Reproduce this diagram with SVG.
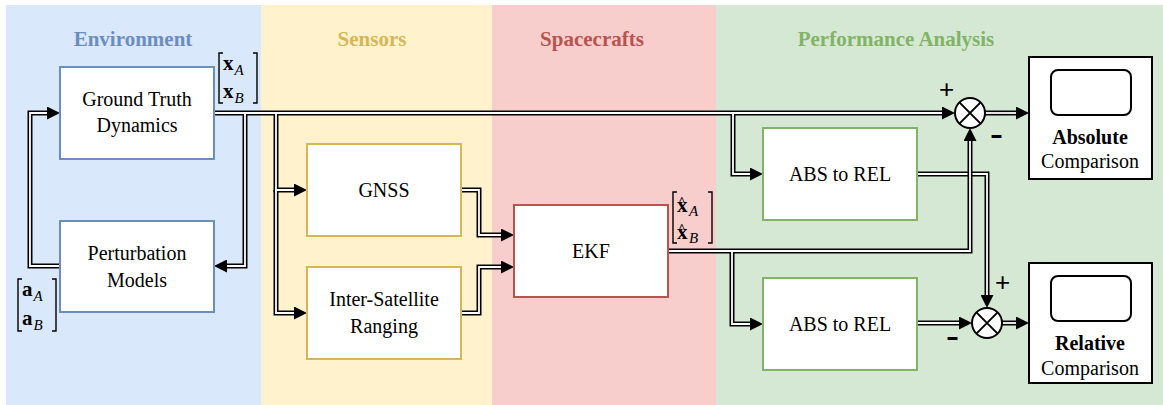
<svg xmlns="http://www.w3.org/2000/svg" width="1163" height="405" viewBox="0 0 1163 405">
<defs>
<marker id="ah" markerUnits="userSpaceOnUse" markerWidth="13" markerHeight="13" viewBox="0 0 13 13" refX="0" refY="6.5" orient="auto">
<path d="M0,0 L13,6.5 L0,13 z" fill="#000"/>
</marker>
</defs>
<g id="backgrounds">
<rect x="6" y="5" width="255" height="400" fill="#dae8fc"/>
<rect x="261" y="5" width="231" height="400" fill="#fff2cc"/>
<rect x="492" y="5" width="224" height="400" fill="#f8cecc"/>
<rect x="716" y="5" width="447" height="400" fill="#d5e8d4"/>
<text style="font-family:Liberation Serif,serif;font-size:21px;font-weight:bold;text-anchor:middle;fill:#6c8ebf" x="133" y="46">Environment</text>
<text style="font-family:Liberation Serif,serif;font-size:21px;font-weight:bold;text-anchor:middle;fill:#d6b656" x="372" y="46">Sensors</text>
<text style="font-family:Liberation Serif,serif;font-size:21px;font-weight:bold;text-anchor:middle;fill:#b85450" x="592" y="46">Spacecrafts</text>
<text style="font-family:Liberation Serif,serif;font-size:21px;font-weight:bold;text-anchor:middle;fill:#82b366" x="896" y="46">Performance Analysis</text>
</g>
<g id="connectors" fill="none">
<g stroke="#000" stroke-width="5" marker-end="url(#ah)">
<path d="M214,113 H942"/>
<path d="M245,113 V266 H227"/>
<path d="M276,113 V190 H294"/>
<path d="M276,190 V313 H294"/>
<path d="M733,113 V174 H750"/>
<path d="M60,266 H30 V113 H47"/>
<path d="M461,190 H479 V235 H501"/>
<path d="M461,313 H479 V267 H501"/>
</g>
<g stroke="#fff" stroke-width="1.8">
<path d="M214,113 H942"/>
<path d="M245,113 V266 H227"/>
<path d="M276,113 V190 H294"/>
<path d="M276,190 V313 H294"/>
<path d="M733,113 V174 H750"/>
<path d="M60,266 H30 V113 H47"/>
<path d="M461,190 H479 V235 H501"/>
<path d="M461,313 H479 V267 H501"/>
</g>
<path d="M917,174 H987 V295" stroke="#000" stroke-width="5" marker-end="url(#ah)"/>
<path d="M917,174 H987 V295" stroke="#fff" stroke-width="1.8"/>
<g stroke="#000" stroke-width="5" marker-end="url(#ah)">
<path d="M668,251 H970 V141"/>
<path d="M732,251 V324 H750"/>
<path d="M917,323 H959"/>
<path d="M985,113 H1016"/>
<path d="M1002,323 H1016"/>
</g>
<g stroke="#fff" stroke-width="1.8">
<path d="M668,251 H970 V141"/>
<path d="M732,251 V324 H750"/>
<path d="M917,323 H959"/>
<path d="M985,113 H1016"/>
<path d="M1002,323 H1016"/>
</g>
</g>
<g id="gtd">
<rect x="60" y="67" width="154" height="92" fill="#fff" stroke="#6c8ebf" stroke-width="2"/>
<text style="font-family:Liberation Serif,serif;font-size:20px;text-anchor:middle" x="137" y="106">Ground Truth</text>
<text style="font-family:Liberation Serif,serif;font-size:20px;text-anchor:middle" x="137" y="132">Dynamics</text>
</g>
<g id="pert">
<rect x="60" y="221" width="154" height="91" fill="#fff" stroke="#6c8ebf" stroke-width="2"/>
<text style="font-family:Liberation Serif,serif;font-size:20px;text-anchor:middle" x="137" y="260">Perturbation</text>
<text style="font-family:Liberation Serif,serif;font-size:20px;text-anchor:middle" x="137" y="287">Models</text>
</g>
<g id="gnss">
<rect x="307" y="144" width="154" height="92" fill="#fff" stroke="#d6b656" stroke-width="2"/>
<text style="font-family:Liberation Serif,serif;font-size:20px;text-anchor:middle" x="384" y="197">GNSS</text>
</g>
<g id="isr">
<rect x="307" y="267" width="154" height="92" fill="#fff" stroke="#d6b656" stroke-width="2"/>
<text style="font-family:Liberation Serif,serif;font-size:20px;text-anchor:middle" x="384" y="306">Inter-Satellite</text>
<text style="font-family:Liberation Serif,serif;font-size:20px;text-anchor:middle" x="384" y="333">Ranging</text>
</g>
<g id="ekf">
<rect x="514" y="205" width="154" height="92" fill="#fff" stroke="#b85450" stroke-width="2"/>
<text style="font-family:Liberation Serif,serif;font-size:20px;text-anchor:middle" x="591" y="258">EKF</text>
</g>
<g id="abs1">
<rect x="763" y="128" width="154" height="92" fill="#fff" stroke="#82b366" stroke-width="2"/>
<text style="font-family:Liberation Serif,serif;font-size:20px;text-anchor:middle" x="840" y="181">ABS to REL</text>
</g>
<g id="abs2">
<rect x="763" y="278" width="154" height="92" fill="#fff" stroke="#82b366" stroke-width="2"/>
<text style="font-family:Liberation Serif,serif;font-size:20px;text-anchor:middle" x="840" y="331">ABS to REL</text>
</g>
<g id="sum1">
<circle cx="970" cy="113" r="15" fill="#fff" stroke="#000" stroke-width="2"/>
<path d="M959.4,102.4 L980.6,123.6 M980.6,102.4 L959.4,123.6" stroke="#000" stroke-width="2"/>
<text style="font-family:Liberation Sans,sans-serif;font-size:26px" x="939" y="98">+</text>
<text style="font-family:Liberation Sans,sans-serif;font-size:26px;font-weight:bold" x="990" y="143" textLength="13" lengthAdjust="spacingAndGlyphs">-</text>
</g>
<g id="sum2">
<circle cx="987" cy="323" r="15" fill="#fff" stroke="#000" stroke-width="2"/>
<path d="M976.4,312.4 L997.6,333.6 M997.6,312.4 L976.4,333.6" stroke="#000" stroke-width="2"/>
<text style="font-family:Liberation Sans,sans-serif;font-size:26px" x="995" y="291">+</text>
<text style="font-family:Liberation Sans,sans-serif;font-size:26px;font-weight:bold" x="946" y="345" textLength="13" lengthAdjust="spacingAndGlyphs">-</text>
</g>
<g id="scope_abs">
<rect x="1029" y="57" width="123" height="122" fill="#fff" stroke="#000" stroke-width="2"/>
<rect x="1051" y="70" width="80" height="45" rx="7" fill="#fff" stroke="#000" stroke-width="2"/>
<text style="font-family:Liberation Serif,serif;font-size:20px;font-weight:bold;text-anchor:middle" x="1090" y="144">Absolute</text>
<text style="font-family:Liberation Serif,serif;font-size:20px;text-anchor:middle" x="1090" y="168">Comparison</text>
</g>
<g id="scope_rel">
<rect x="1029" y="263" width="123" height="120" fill="#fff" stroke="#000" stroke-width="2"/>
<rect x="1051" y="276" width="80" height="45" rx="7" fill="#fff" stroke="#000" stroke-width="2"/>
<text style="font-family:Liberation Serif,serif;font-size:20px;font-weight:bold;text-anchor:middle" x="1090" y="350">Relative</text>
<text style="font-family:Liberation Serif,serif;font-size:20px;text-anchor:middle" x="1090" y="375">Comparison</text>
</g>
<g id="label_x">
<path d="M223,53 H219 V103 H223 M253,53 H257 V103 H253" fill="none" stroke="#000" stroke-width="1.4"/>
<text style="font-family:Liberation Serif,serif;font-size:21px;font-weight:bold" x="223" y="70">x<tspan style="font-size:15px;font-style:italic;font-weight:normal" dx="1" dy="5">A</tspan></text>
<text style="font-family:Liberation Serif,serif;font-size:21px;font-weight:bold" x="223" y="98">x<tspan style="font-size:15px;font-style:italic;font-weight:normal" dx="1" dy="5">B</tspan></text>
</g>
<g id="label_a">
<path d="M22,279 H18 V331 H22 M52,279 H56 V331 H52" fill="none" stroke="#000" stroke-width="1.4"/>
<text style="font-family:Liberation Serif,serif;font-size:21px;font-weight:bold" x="22" y="296">a<tspan style="font-size:15px;font-style:italic;font-weight:normal" dx="1" dy="5">A</tspan></text>
<text style="font-family:Liberation Serif,serif;font-size:21px;font-weight:bold" x="22" y="325">a<tspan style="font-size:15px;font-style:italic;font-weight:normal" dx="1" dy="5">B</tspan></text>
</g>
<g id="label_xhat">
<path d="M677,192 H673 V243 H677 M708,192 H712 V243 H708" fill="none" stroke="#000" stroke-width="1.4"/>
<text style="font-family:Liberation Serif,serif;font-size:21px;font-weight:bold" x="677" y="212">x<tspan style="font-size:13px" x="678" dy="-7">^</tspan><tspan style="font-size:15px;font-style:italic;font-weight:normal" x="689" dy="11">A</tspan></text>
<text style="font-family:Liberation Serif,serif;font-size:21px;font-weight:bold" x="677" y="239">x<tspan style="font-size:13px" x="678" dy="-7">^</tspan><tspan style="font-size:15px;font-style:italic;font-weight:normal" x="689" dy="11">B</tspan></text>
</g>
</svg>
